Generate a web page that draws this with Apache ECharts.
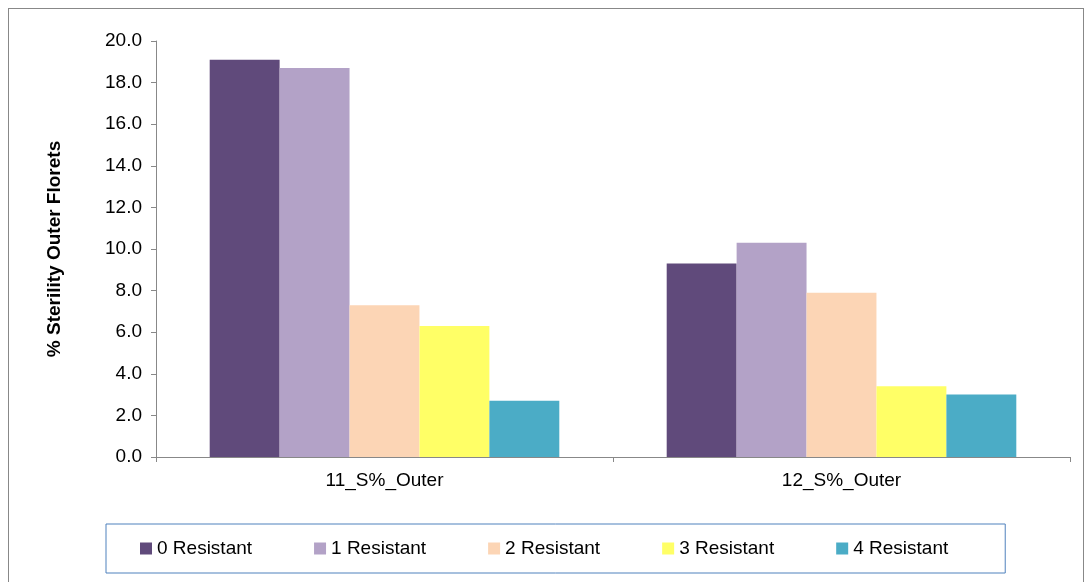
<!DOCTYPE html>
<html lang="en">
<head>
<meta charset="UTF-8">
<title>Sterility Outer Florets</title>
<script src="https://cdn.jsdelivr.net/npm/echarts@6/dist/echarts.min.js"></script>
<style>
  html, body { margin: 0; padding: 0; background: #fff; }
  #frame { position: absolute; left: 8px; top: 8px; width: 1076px; height: 580px; border: 1px solid #888; border-bottom: none; box-sizing: border-box; }
  #main { position: absolute; left: 0; top: 0; width: 1089px; height: 582px; }
</style>
</head>
<body>
<div id="frame"></div>
<div id="main"></div>
<script>
var categories = ['11_S%_Outer', '12_S%_Outer'];
var seriesNames = ['0 Resistant', '1 Resistant', '2 Resistant', '3 Resistant', '4 Resistant'];
var seriesValues = [
    [19.1, 9.3],
    [18.7, 10.3],
    [7.3, 7.9],
    [6.3, 3.4],
    [2.7, 3.0]
];
var colors = ['#604A7B', '#B3A2C7', '#FCD5B5', '#FFFF66', '#4BACC6'];

var myChart = echarts.init(document.getElementById('main'));
var series = [];
for (var i = 0; i < seriesNames.length; i++) {
    series.push({
        name: seriesNames[i],
        type: 'bar',
        data: seriesValues[i],
        barGap: '0%',
        barCategoryGap: '23.5%',
        itemStyle: { color: colors[i] }
    });
}
var font = '"Liberation Sans", Arial, sans-serif';
myChart.setOption({
    animation: false,
    textStyle: { fontFamily: font },
    grid: { left: 156, right: 19, top: 41, bottom: 125 },
    xAxis: {
        type: 'category',
        data: categories,
        axisLine: { lineStyle: { color: '#888' } },
        axisTick: { show: true, length: 5, lineStyle: { color: '#888' } },
        axisLabel: { color: '#000', fontSize: 19, margin: 14, fontFamily: font }
    },
    yAxis: {
        type: 'value',
        min: 0, max: 20, interval: 2,
        name: '% Sterility Outer Florets',
        nameLocation: 'middle',
        nameGap: 92,
        nameTextStyle: { color: '#000', fontSize: 19, fontWeight: 'bold', fontFamily: font },
        splitLine: { show: false },
        axisLine: { show: true, lineStyle: { color: '#888' } },
        axisTick: { show: true, length: 5, lineStyle: { color: '#888' } },
        axisLabel: { color: '#000', fontSize: 19, margin: 14, fontFamily: font,
            formatter: function (v) { return v.toFixed(1); } }
    },
    legend: {
        bottom: 9,
        left: 106,
        padding: [15, 57, 15, 34],
        itemGap: 62,
        borderColor: '#4F81BD',
        borderWidth: 1,
        icon: 'rect',
        itemWidth: 12,
        itemHeight: 12,
        textStyle: { color: '#000', fontSize: 19, fontFamily: font }
    },
    series: series
});
</script>
</body>
</html>
